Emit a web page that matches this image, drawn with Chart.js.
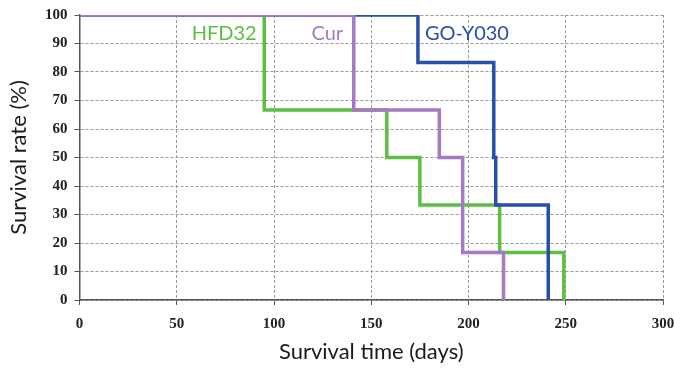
<!DOCTYPE html>
<html>
<head>
<meta charset="utf-8">
<script src="https://cdn.jsdelivr.net/npm/chart.js@4"></script>
<style>
  html, body { margin: 0; padding: 0; background: #fff; }
  #wrap { width: 674px; height: 369px; }
</style>
</head>
<body>
<div id="wrap"><canvas id="chart" width="674" height="369"></canvas></div>
<script>
// survival curves (days, % alive)
const hfdDays = [0, 95, 158, 175, 216, 249];
const hfdRate = [100, 66.7, 50, 33.3, 16.7, 0];
const curDays = [0, 141, 185, 197, 218];
const curRate = [100, 66.7, 50, 16.7, 0];
const goDays = [0, 174, 213, 214, 241];
const goRate = [100, 83.3, 50, 33.3, 0];

const seriesNames = ["HFD32", "Cur", "GO-Y030"];
const seriesColors = ["#5cbf42", "#a579c3", "#2750ab"];
// where the in-plot names sit (data units)
const labelX = [74.4, 127.4, 199.2];
const labelY = 93.5;

const xTicks = [0, 50, 100, 150, 200, 250, 300];
const yTicks = [0, 10, 20, 30, 40, 50, 60, 70, 80, 90, 100];

const toPoints = (xs, ys) => xs.map((x, i) => ({ x: x, y: ys[i] }));

// draw series names inside the plot
const nameLabels = {
    id: "nameLabels",
    afterDatasetsDraw(chart) {
        const { ctx, scales } = chart;
        ctx.save();
        ctx.font = "20px Lato";
        ctx.textAlign = "center";
        ctx.textBaseline = "middle";
        seriesNames.forEach((name, i) => {
            ctx.fillStyle = seriesColors[i];
            ctx.fillText(name, scales.x.getPixelForValue(labelX[i]), scales.y.getPixelForValue(labelY));
        });
        ctx.restore();
    }
};

const ctx = document.getElementById("chart").getContext("2d");

const tickFont = { family: "Liberation Serif", size: 15, weight: "bold" };
const titleFont = { family: "Lato", size: 22 };

const lineStyle = { stepped: true, borderWidth: 3.5, pointRadius: 0, fill: false };

new Chart(ctx, {
    type: "line",
    data: {
        // first dataset is drawn on top: Cur, then GO-Y030, then HFD32
        datasets: [
            Object.assign({ data: toPoints(curDays, curRate), borderColor: seriesColors[1] }, lineStyle),
            Object.assign({ data: toPoints(goDays, goRate), borderColor: seriesColors[2] }, lineStyle),
            Object.assign({ data: toPoints(hfdDays, hfdRate), borderColor: seriesColors[0] }, lineStyle)
        ]
    },
    options: {
        responsive: false,
        animation: false,
        layout: { padding: { top: 15, right: 11, left: 0, bottom: 4 } },
        scales: {
            x: {
                type: "linear",
                min: 0,
                max: 300,
                afterBuildTicks: s => { s.ticks = xTicks.map(v => ({ value: v })); },
                // let the "300" label run off the edge like in the original
                afterFit: s => { s.height = 65; s.paddingLeft = 0; s.paddingRight = 0; },
                grid: {
                    color: "#9a9a9a",
                    lineWidth: 1,
                    tickLength: 5,
                    tickColor: "#555",
                    tickBorderDash: []
                },
                border: { color: "#555", width: 1.5, dash: [3, 2] },
                ticks: { color: "#222", font: tickFont, padding: 10, maxRotation: 0 },
                title: {
                    display: true,
                    text: "Survival time (days)",
                    color: "#1a1a1a",
                    font: titleFont,
                    padding: { top: 4, bottom: 0 }
                }
            },
            y: {
                min: 0,
                max: 100,
                afterBuildTicks: s => { s.ticks = yTicks.map(v => ({ value: v })); },
                afterFit: s => { s.width = 79.5; s.paddingTop = 0; s.paddingBottom = 0; },
                grid: {
                    color: "#9a9a9a",
                    lineWidth: 1,
                    tickLength: 5,
                    tickColor: "#555",
                    tickBorderDash: []
                },
                border: { color: "#555", width: 1.5, dash: [3, 2] },
                ticks: { color: "#222", font: tickFont, padding: 7 },
                title: {
                    display: true,
                    text: "Survival rate (%)",
                    color: "#1a1a1a",
                    font: titleFont,
                    padding: { top: 6, bottom: 4 }
                }
            }
        },
        plugins: {
            legend: { display: false },
            tooltip: { enabled: false }
        }
    },
    plugins: [nameLabels]
});
</script>
</body>
</html>
